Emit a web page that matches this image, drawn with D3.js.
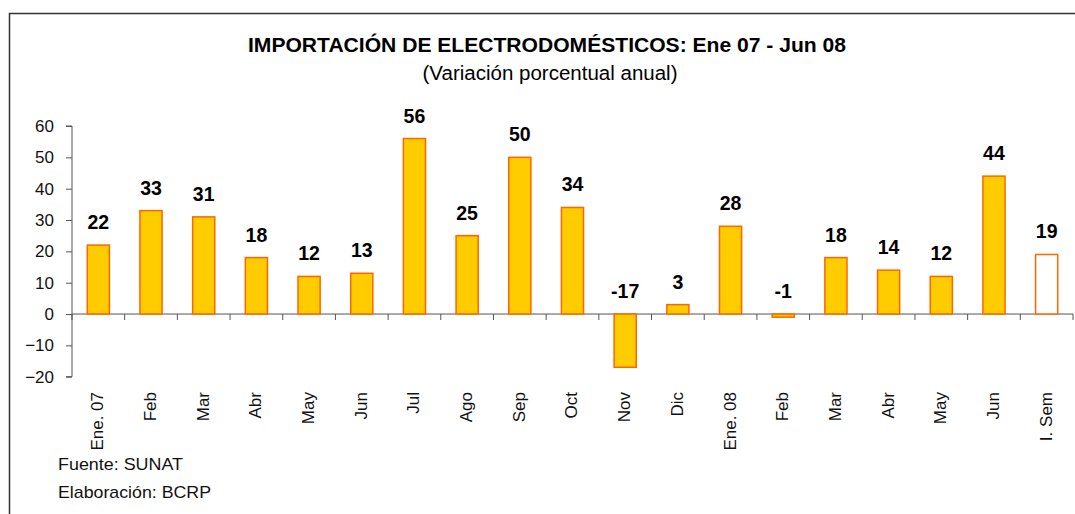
<!DOCTYPE html>
<html>
<head>
	<meta charset="utf-8">
	<title>Importación de electrodomésticos</title>
	<script src="https://d3js.org/d3.v7.min.js"></script>
	<style>
		body { margin: 0; background: #fff; }
		text { font-family: "Liberation Sans Narrow", "Arial Narrow", "Liberation Sans", Arial, sans-serif; }
		text.val { font-family: "Liberation Sans", Arial, sans-serif; }
	</style>
</head>
<body>
<script>
	var categories = ['Ene. 07', 'Feb', 'Mar', 'Abr', 'May', 'Jun', 'Jul', 'Ago', 'Sep', 'Oct', 'Nov', 'Dic',
		'Ene. 08', 'Feb', 'Mar', 'Abr', 'May', 'Jun', 'I. Sem'];
	var values = [22, 33, 31, 18, 12, 13, 56, 25, 50, 34, -17, 3, 28, -1, 18, 14, 12, 44, 19];
	var yTicks = [-20, -10, 0, 10, 20, 30, 40, 50, 60];

	var width = 1075, height = 514;
	var svg = d3.select('body').append('svg')
		.attr('width', width)
		.attr('height', height);

	// frame (top and left edges visible)
	svg.append('path')
		.attr('d', 'M9.5,' + height + 'V13.5H' + width)
		.attr('fill', 'none')
		.attr('stroke', '#333')
		.attr('stroke-width', 1.5);

	svg.append('text')
		.attr('x', 547).attr('y', 52)
		.attr('text-anchor', 'middle')
		.attr('font-size', 21).attr('font-weight', 'bold')
		.attr('textLength', 598).attr('lengthAdjust', 'spacingAndGlyphs')
		.text('IMPORTACIÓN DE ELECTRODOMÉSTICOS: Ene 07 - Jun 08');
	svg.append('text')
		.attr('x', 550).attr('y', 80)
		.attr('text-anchor', 'middle')
		.attr('font-size', 20)
		.attr('textLength', 255).attr('lengthAdjust', 'spacingAndGlyphs')
		.text('(Variación porcentual anual)');

	var x = d3.scaleBand()
		.domain(d3.range(categories.length))
		.range([72, 1073])
		.paddingInner(0.58)
		.paddingOuter(0.29);
	var y = d3.scaleLinear().domain([-20, 60]).range([376.7, 126]);

	// y axis
	var yAxis = svg.append('g')
		.attr('transform', 'translate(72,0)')
		.call(d3.axisLeft(y).tickValues(yTicks).tickSize(6).tickPadding(12));
	yAxis.select('.domain').attr('stroke', '#555').attr('d', 'M-6,' + y(60) + 'H0V' + y(-20) + 'H-6');
	yAxis.selectAll('.tick line').attr('stroke', '#555');
	yAxis.selectAll('.tick text')
		.attr('font-size', 17).attr('fill', '#111')
		.attr('font-family', null);

	// zero line with category ticks
	var band = x.step();
	var zero = svg.append('g');
	zero.append('line')
		.attr('x1', 72).attr('x2', 1073)
		.attr('y1', y(0)).attr('y2', y(0))
		.attr('stroke', '#555').attr('stroke-width', 1);
	zero.selectAll('.ctick')
		.data(d3.range(categories.length + 1))
		.enter().append('line')
		.attr('x1', function(d) { return 72 + d * band; })
		.attr('x2', function(d) { return 72 + d * band; })
		.attr('y1', y(0)).attr('y2', y(0) + 6)
		.attr('stroke', '#555');

	// bars
	svg.selectAll('.bar')
		.data(values)
		.enter().append('rect')
		.attr('class', 'bar')
		.attr('x', function(d, i) { return x(i); })
		.attr('width', x.bandwidth())
		.attr('y', function(d) { return y(Math.max(0, d)); })
		.attr('height', function(d) { return Math.abs(y(d) - y(0)); })
		.attr('fill', function(d, i) { return i === values.length - 1 ? '#fff' : '#FFCC00'; })
		.attr('stroke', '#FF6600')
		.attr('stroke-width', 1.5);

	// value labels
	svg.selectAll('.val')
		.data(values)
		.enter().append('text')
		.attr('class', 'val')
		.attr('x', function(d, i) { return x(i) + x.bandwidth() / 2; })
		.attr('y', function(d) { return y(Math.max(0, d)) - 16; })
		.attr('text-anchor', 'middle')
		.attr('font-size', 19.5).attr('font-weight', 'bold')
		.attr('fill', '#000')
		.text(function(d) { return d; });

	// category labels
	svg.selectAll('.cat')
		.data(categories)
		.enter().append('text')
		.attr('class', 'cat')
		.attr('transform', function(d, i) {
			return 'translate(' + (x(i) + x.bandwidth() / 2 - 1) + ',392) rotate(-90)';
		})
		.attr('text-anchor', 'end')
		.attr('dy', '0.35em')
		.attr('font-size', 17)
		.attr('fill', '#111')
		.text(function(d) { return d; });

	svg.append('text')
		.attr('x', 58).attr('y', 470)
		.attr('font-size', 17).attr('fill', '#111')
		.attr('textLength', 125).attr('lengthAdjust', 'spacingAndGlyphs')
		.text('Fuente: SUNAT');
	svg.append('text')
		.attr('x', 58).attr('y', 498)
		.attr('font-size', 17).attr('fill', '#111')
		.attr('textLength', 153).attr('lengthAdjust', 'spacingAndGlyphs')
		.text('Elaboración: BCRP');
</script>
</body>
</html>
